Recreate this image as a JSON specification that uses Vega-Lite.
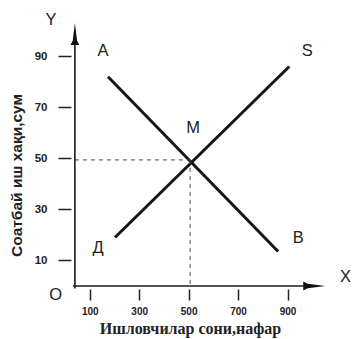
{
  "$schema": "https://vega.github.io/schema/vega-lite/v6.json",
  "width": 272,
  "height": 268,
  "autosize": {"type": "none"},
  "padding": {"left": 65, "top": 18, "right": 15, "bottom": 53},
  "background": "white",
  "config": {"view": {"stroke": null}},
  "datasets": {
    "curves": [
      {"curve": "AB", "x": 174, "y": 82},
      {"curve": "AB", "x": 862, "y": 13.5},
      {"curve": "ДS", "x": 202, "y": 19},
      {"curve": "ДS", "x": 907, "y": 86}
    ],
    "guides": [
      {"seg": "h", "ord": 1, "x": 40, "y": 49.4},
      {"seg": "h", "ord": 2, "x": 506, "y": 49.4},
      {"seg": "v", "ord": 1, "x": 506, "y": 49.4},
      {"seg": "v", "ord": 2, "x": 506, "y": 0}
    ],
    "axislines": [
      {"axis": "y", "ord": 1, "x": 40, "y": -1},
      {"axis": "y", "ord": 2, "x": 40, "y": 100},
      {"axis": "x", "ord": 1, "x": 32, "y": 0},
      {"axis": "x", "ord": 2, "x": 1000, "y": 0}
    ],
    "arrowUp": [{"x": 40, "y": 98.7}],
    "arrowRight": [{"x": 1008, "y": 0}],
    "labels": [
      {"t": "A", "x": 154, "y": 92},
      {"t": "S", "x": 980, "y": 92},
      {"t": "M", "x": 518, "y": 62},
      {"t": "B", "x": 943, "y": 19},
      {"t": "Д", "x": 134, "y": 15},
      {"t": "Y", "x": -57, "y": 104.2},
      {"t": "O", "x": -38, "y": -3.5},
      {"t": "X", "x": 1134, "y": 3.5}
    ]
  },
  "layer": [
    {
      "data": {"name": "curves"},
      "mark": {"type": "line", "color": "#151515", "strokeWidth": 3},
      "encoding": {
        "x": {
          "field": "x", "type": "quantitative",
          "scale": {"domain": [0, 1100], "nice": false, "zero": false},
          "axis": {
            "values": [100, 200, 300, 400, 500, 600, 700, 800, 900, 1000],
            "labelExpr": "datum.value % 200 == 100 ? datum.label : ''",
            "grid": false, "domain": false,
            "tickSize": 11, "tickWidth": 1.5, "tickColor": "#222",
            "offset": 3, "labelPadding": 6,
            "labelFont": "Liberation Sans", "labelFontSize": 10, "labelFontWeight": "bold", "labelColor": "#222",
            "title": "Ишловчилар сони,нафар",
            "titleFont": "Liberation Serif", "titleFontSize": 16, "titleFontWeight": "bold", "titleColor": "#222",
            "titleX": 125, "titleY": 31
          }
        },
        "y": {
          "field": "y", "type": "quantitative",
          "scale": {"domain": [0, 105], "nice": false, "zero": false},
          "axis": {
            "values": [10, 20, 30, 40, 50, 60, 70, 80, 90],
            "labelExpr": "datum.value % 20 == 10 ? datum.label : ''",
            "grid": false, "domain": false,
            "tickSize": 13, "tickWidth": 1.5, "tickColor": "#222",
            "offset": -6, "labelPadding": 11,
            "labelFont": "Liberation Sans", "labelFontSize": 11.5, "labelFontWeight": "bold", "labelColor": "#222",
            "title": "Соатбай иш хақи,сум",
            "titleFont": "Liberation Sans", "titleFontSize": 15.5, "titleFontWeight": "bold", "titleColor": "#222",
            "titleX": -47, "titleY": 157
          }
        },
        "detail": {"field": "curve"}
      }
    },
    {
      "data": {"name": "guides"},
      "mark": {"type": "line", "color": "#5a4636", "strokeWidth": 1, "strokeDash": [4, 4]},
      "encoding": {
        "x": {"field": "x", "type": "quantitative"},
        "y": {"field": "y", "type": "quantitative"},
        "detail": {"field": "seg"},
        "order": {"field": "ord"}
      }
    },
    {
      "data": {"name": "axislines"},
      "mark": {"type": "line", "color": "#1a1a1a", "strokeWidth": 1.6},
      "encoding": {
        "x": {"field": "x", "type": "quantitative"},
        "y": {"field": "y", "type": "quantitative"},
        "detail": {"field": "axis"},
        "order": {"field": "ord"}
      }
    },
    {
      "data": {"name": "arrowUp"},
      "mark": {"type": "point", "shape": "M0,-1L0.2,0.6L0.4,1L-0.4,1L-0.2,0.6Z", "size": 484, "filled": true, "color": "#111", "opacity": 1},
      "encoding": {
        "x": {"field": "x", "type": "quantitative"},
        "y": {"field": "y", "type": "quantitative"}
      }
    },
    {
      "data": {"name": "arrowRight"},
      "mark": {"type": "point", "shape": "M1,0L-0.6,0.2L-1,0.4L-1,-0.4L-0.6,-0.2Z", "size": 484, "filled": true, "color": "#111", "opacity": 1},
      "encoding": {
        "x": {"field": "x", "type": "quantitative"},
        "y": {"field": "y", "type": "quantitative"}
      }
    },
    {
      "data": {"name": "labels"},
      "mark": {"type": "text", "font": "Liberation Sans", "fontSize": 16.5, "color": "#222", "align": "center", "baseline": "middle"},
      "encoding": {
        "x": {"field": "x", "type": "quantitative"},
        "y": {"field": "y", "type": "quantitative"},
        "text": {"field": "t"}
      }
    }
  ]
}
